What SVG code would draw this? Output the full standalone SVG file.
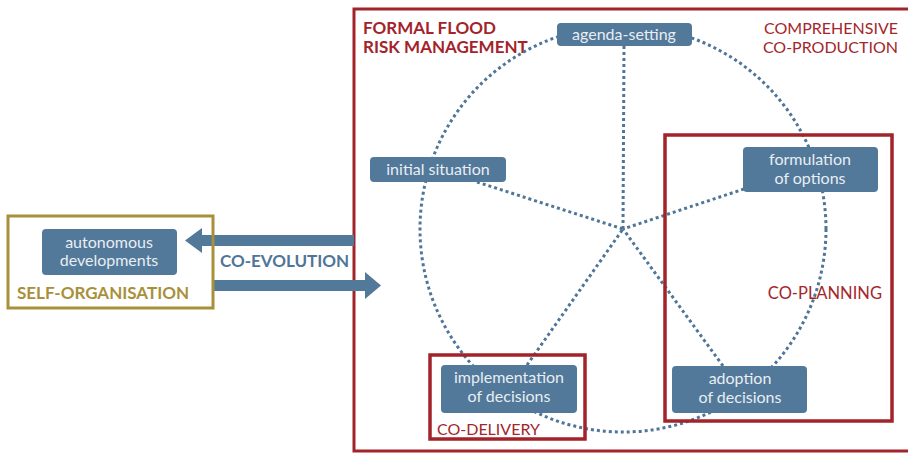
<svg xmlns="http://www.w3.org/2000/svg" width="908" height="453" viewBox="0 0 908 453">
<style>
.box{fill:#52789a;}
.bt{fill:#e8eef3;font-family:Lato,"Open Sans",sans-serif;font-size:16px;text-anchor:middle;}
.red{fill:#a3262b;font-family:Lato,"Open Sans",sans-serif;font-size:16px;}
.dot{fill:none;stroke:#4f7598;stroke-width:3;stroke-dasharray:3 3;}
.frame{fill:none;stroke:#a3232a;stroke-width:3.5;}
</style>
<rect width="908" height="453" fill="#ffffff"/>
<g id="formal-frame">
<rect x="354" y="9" width="600" height="442" fill="none" stroke="#a3232a" stroke-width="3"/>
<text x="363" y="34" style="fill:#a3232a;font-family:Lato,sans-serif;font-size:17px;font-weight:bold">FORMAL FLOOD</text>
<text x="363" y="53" style="fill:#a3232a;font-family:Lato,sans-serif;font-size:17px;font-weight:bold">RISK MANAGEMENT</text>
<text x="898" y="34" class="red" text-anchor="end">COMPREHENSIVE</text>
<text x="898" y="53" class="red" text-anchor="end">CO-PRODUCTION</text>
</g>
<g id="connectors">
<circle cx="623" cy="229" r="203" class="dot"/>
<line x1="624" y1="46" x2="623" y2="229" class="dot"/>
<line x1="477" y1="182" x2="623" y2="229" class="dot"/>
<line x1="744" y1="189" x2="623" y2="229" class="dot"/>
<line x1="527" y1="365" x2="623" y2="229" class="dot"/>
<line x1="723" y1="366" x2="623" y2="229" class="dot"/>
<polygon points="354,235 202,235 202,228 185,240.5 202,253 202,246 354,246" fill="#52789a"/>
<polygon points="213,280 365,280 365,272 381,285.5 365,299 365,291 213,291" fill="#52789a"/>
</g>
<g id="co-planning">
<rect x="665" y="135" width="227" height="286" class="frame"/>
<text x="882" y="299" class="red" text-anchor="end" style="font-size:16.5px">CO-PLANNING</text>
</g>
<g id="co-delivery">
<rect x="430" y="355" width="155" height="84" class="frame"/>
<text x="437" y="435" class="red">CO-DELIVERY</text>
</g>
<g id="self-organisation">
<rect x="8" y="216" width="205" height="92" fill="none" stroke="#a8903a" stroke-width="3"/>
<text x="17" y="299" style="fill:#a8903a;font-family:Lato,sans-serif;font-size:17px;font-weight:bold">SELF-ORGANISATION</text>
</g>
<g id="co-evolution">
<text x="220" y="267" style="fill:#4f7598;font-family:Lato,sans-serif;font-size:17px;font-weight:bold">CO-EVOLUTION</text>
</g>
<g id="agenda-setting">
<rect x="557" y="23" width="135" height="23" rx="4" class="box"/>
<text x="624" y="40" class="bt">agenda-setting</text>
</g>
<g id="initial-situation">
<rect x="370" y="157" width="136" height="25" rx="4" class="box"/>
<text x="438" y="175" class="bt">initial situation</text>
</g>
<g id="formulation-of-options">
<rect x="743" y="147" width="135" height="45" rx="4" class="box"/>
<text x="810" y="165" class="bt">formulation</text>
<text x="810" y="184" class="bt">of options</text>
</g>
<g id="implementation-of-decisions">
<rect x="441" y="365" width="136" height="48" rx="4" class="box"/>
<text x="509" y="383" class="bt">implementation</text>
<text x="509" y="402" class="bt">of decisions</text>
</g>
<g id="adoption-of-decisions">
<rect x="672" y="366" width="135" height="47" rx="4" class="box"/>
<text x="740" y="384" class="bt">adoption</text>
<text x="740" y="403" class="bt">of decisions</text>
</g>
<g id="autonomous-developments">
<rect x="42" y="229" width="135" height="46" rx="4" class="box"/>
<text x="109" y="248" class="bt">autonomous</text>
<text x="109" y="266" class="bt">developments</text>
</g>
</svg>
